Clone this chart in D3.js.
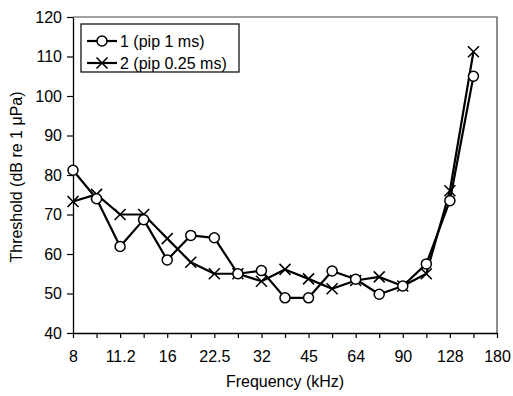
<!DOCTYPE html>
<html>
<head>
<meta charset="utf-8">
<script src="https://cdn.jsdelivr.net/npm/d3@7"></script>
<style>
  body { margin: 0; background: #fff; }
  svg, svg text { font-family: "Liberation Sans", Arial, sans-serif; }
</style>
</head>
<body>
<div id="chart"></div>
<script>
// quarter-octave test frequencies (kHz), last one only used as axis end
const freqs = [8, 9.5, 11.2, 13.5, 16, 19, 22.5, 27, 32, 38, 45, 54, 64, 76, 90, 107, 128, 152, 180];
const xLabels = [8, 11.2, 16, 22.5, 32, 45, 64, 90, 128, 180];
const yTicks = [40, 50, 60, 70, 80, 90, 100, 110, 120];

// thresholds, dB re 1 µPa
const pip1ms = [81.2, 74, 61.9, 68.7, 58.5, 64.7, 64.1, 55, 55.8, 48.9, 48.9, 55.7, 53.6, 49.8, 51.9, 57.5, 73.5, 105];
const pip025ms = [73.3, 75.1, 70, 70, 63.9, 57.9, 55, 55, 53.1, 56.1, 53.7, 51.2, 53.3, 54.2, 51.9, 55, 76, 111.2];

const seriesNames = ["1 (pip 1 ms)", "2 (pip 0.25 ms)"];

const W = 513, H = 396;
const margin = { top: 17, right: 16, bottom: 63, left: 73 };
const FS = 16;

const svg = d3.select("#chart").append("svg")
  .attr("width", W)
  .attr("height", H);

const x = d3.scalePoint()
  .domain(freqs)
  .range([margin.left, W - margin.right]);

const y = d3.scaleLinear()
  .domain([40, 120])
  .range([H - margin.bottom, margin.top]);

// frame (top and right)
svg.append("path")
  .attr("d", "M" + margin.left + "," + margin.top + "H" + (W - margin.right) + "V" + (H - margin.bottom))
  .attr("fill", "none")
  .attr("stroke", "#444")
  .attr("stroke-width", 1.2);

// x axis
const xAxis = svg.append("g")
  .attr("transform", "translate(0," + (H - margin.bottom) + ")")
  .call(d3.axisBottom(x)
    .tickValues(freqs)
    .tickSize(5)
    .tickSizeOuter(0)
    .tickFormat(d => xLabels.includes(d) ? d : ""));
xAxis.attr("font-family", null).attr("font-size", FS);
xAxis.select(".domain").attr("stroke", "#000").attr("stroke-width", 1.3);
xAxis.selectAll(".tick line").attr("stroke", "#000").attr("stroke-width", 1.2);
xAxis.selectAll("text")
  .attr("fill", "#000")
  .attr("y", 18);

// y axis
const yAxis = svg.append("g")
  .attr("transform", "translate(" + margin.left + ",0)")
  .call(d3.axisLeft(y)
    .tickValues(yTicks)
    .tickSize(6)
    .tickSizeOuter(0));
yAxis.attr("font-family", null).attr("font-size", FS);
yAxis.select(".domain").attr("stroke", "#000").attr("stroke-width", 1.3);
yAxis.selectAll(".tick line").attr("stroke", "#000").attr("stroke-width", 1.2);
yAxis.selectAll("text")
  .attr("fill", "#000")
  .attr("x", -11);

// axis titles
svg.append("text")
  .attr("x", (margin.left + W - margin.right) / 2)
  .attr("y", 387)
  .attr("text-anchor", "middle")
  .attr("font-size", FS)
  .text("Frequency (kHz)");

svg.append("text")
  .attr("transform", "translate(22,177) rotate(-90)")
  .attr("text-anchor", "middle")
  .attr("font-size", FS)
  .text("Threshold (dB re 1 μPa)");

const line = d3.line()
  .x((d, i) => x(freqs[i]))
  .y(d => y(d));

function drawCircle(g, cx, cy) {
  g.append("circle")
    .attr("cx", cx).attr("cy", cy).attr("r", 5)
    .attr("fill", "#fff")
    .attr("stroke", "#000")
    .attr("stroke-width", 1.5);
}

function drawCross(g, cx, cy) {
  const s = 5.5;
  g.append("path")
    .attr("d", "M" + (cx - s) + "," + (cy - s) + "L" + (cx + s) + "," + (cy + s) +
      "M" + (cx - s) + "," + (cy + s) + "L" + (cx + s) + "," + (cy - s))
    .attr("stroke", "#000")
    .attr("stroke-width", 1.6)
    .attr("fill", "none");
}

const series = [
  { values: pip1ms, marker: drawCircle },
  { values: pip025ms, marker: drawCross }
];

const plot = svg.append("g");

// lines first, then markers on top
series.forEach(s => {
  plot.append("path")
    .datum(s.values)
    .attr("d", line)
    .attr("fill", "none")
    .attr("stroke", "#000")
    .attr("stroke-width", 2.2)
    .attr("stroke-linejoin", "round");
});

series.slice().reverse().forEach(s => {
  const g = plot.append("g");
  s.values.forEach((v, i) => s.marker(g, x(freqs[i]), y(v)));
});

// legend
const legend = svg.append("g");
legend.append("rect")
  .attr("x", 81).attr("y", 24)
  .attr("width", 158).attr("height", 48)
  .attr("fill", "#fff")
  .attr("stroke", "#000")
  .attr("stroke-width", 1.2);

seriesNames.forEach((name, i) => {
  const ly = 41 + i * 22;
  legend.append("line")
    .attr("x1", 87).attr("x2", 117)
    .attr("y1", ly).attr("y2", ly)
    .attr("stroke", "#000")
    .attr("stroke-width", 2.2);
  series[i].marker(legend, 102, ly);
  legend.append("text")
    .attr("x", 120)
    .attr("y", ly + 6)
    .attr("font-size", FS)
    .text(name);
});
</script>
</body>
</html>
